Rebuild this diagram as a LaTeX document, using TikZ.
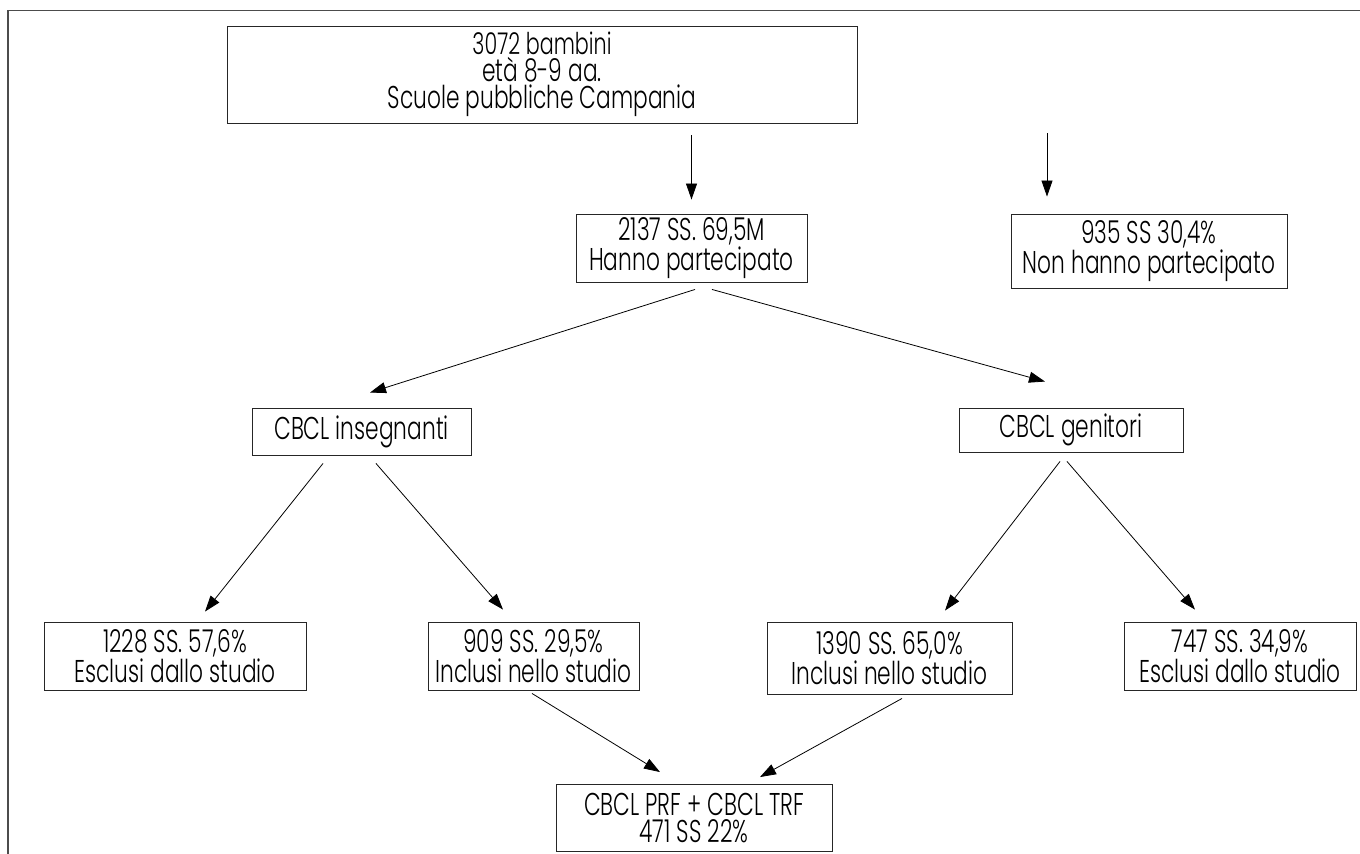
\documentclass[tikz,border=0pt]{standalone}
\usepackage{fontspec}
\setmainfont{Poppins}[UprightFont=* Light, FakeStretch=0.69]
\usetikzlibrary{arrows.meta}
\begin{document}
\begin{tikzpicture}[x=1pt,y=-1pt,
  box/.style={draw=black!85, line width=0.9pt, inner sep=0pt, align=center,
    font=\fontsize{31.5}{27}\selectfont},
  arr/.style={draw=black, line width=0.8pt, -{Triangle[length=16pt,width=11pt]}}]
\useasboundingbox (0,0) rectangle (1360,854);
\draw[line width=1.2pt, black!70] (1360,10.5) -- (8,10.5) -- (8,854);
% boxes
\node[box, minimum width=630pt, minimum height=97pt] (top) at (542,74.5)
  {\fontsize{30}{26}\selectfont 3072 bambini\\età 8-9 aa.\\Scuole pubbliche Campania};
\node[box, minimum width=231pt, minimum height=68pt] (p) at (691.5,248)
  {2137 SS. 69,5M\\Hanno partecipato};
\node[box, minimum width=276pt, minimum height=74pt] (np) at (1149,251)
  {935 SS 30,4\%\\Non hanno partecipato};
\node[box, minimum width=219pt, minimum height=47pt] (ins) at (361.5,431.5)
  {CBCL insegnanti};
\node[box, minimum width=224pt, minimum height=44pt] (gen) at (1071,430)
  {CBCL genitori};
\node[box, minimum width=262pt, minimum height=68pt] (e1) at (175,656)
  {1228 SS. 57,6\%\\Esclusi dallo studio};
\node[box, minimum width=211pt, minimum height=68pt] (i1) at (533.5,656)
  {909 SS. 29,5\%\\Inclusi nello studio};
\node[box, minimum width=245pt, minimum height=72pt] (i2) at (889.5,658)
  {1390 SS. 65,0\%\\Inclusi nello studio};
\node[box, minimum width=232pt, minimum height=68pt] (e2) at (1240,656)
  {747 SS. 34,9\%\\Esclusi dallo studio};
\node[box, minimum width=276pt, minimum height=67pt] (fin) at (694,818)
  {\fontsize{31.5}{28.5}\selectfont CBCL PRF + CBCL TRF\\471 SS 22\%};
% connectors
\draw[arr] ([yshift=-12pt]top.south -| p.north) -- ([yshift=14pt]p.north);
\coordinate (a2s) at (1047,133);
\draw[arr] (a2s) -- ([yshift=17pt]a2s |- np.north);
\draw[arr] ([xshift=3.5pt,yshift=-7pt]p.south) -- ([xshift=8.5pt,yshift=15pt]ins.north);
\draw[arr] ([xshift=20.5pt,yshift=-7pt]p.south) -- ([xshift=-26pt,yshift=26pt]gen.north);
\draw[arr] ([xshift=-38.5pt,yshift=-8pt]ins.south) -- ([xshift=30pt,yshift=10pt]e1.north);
\draw[arr] ([xshift=14.5pt,yshift=-8pt]ins.south) -- ([xshift=-30.5pt,yshift=12pt]i1.north);
\draw[arr] ([xshift=-11pt,yshift=-9pt]gen.south) -- ([xshift=55.5pt,yshift=11pt]i2.north);
\draw[arr] ([xshift=-4pt,yshift=-9pt]gen.south) -- ([xshift=-45pt,yshift=12pt]e2.north);
\draw[arr] ([xshift=-1.5pt,yshift=-3pt]i1.south) -- ([xshift=-34pt,yshift=12pt]fin.north);
\draw[arr] ([xshift=12.5pt,yshift=-4pt]i2.south) -- ([xshift=66pt,yshift=7pt]fin.north);
\end{tikzpicture}
\end{document}
